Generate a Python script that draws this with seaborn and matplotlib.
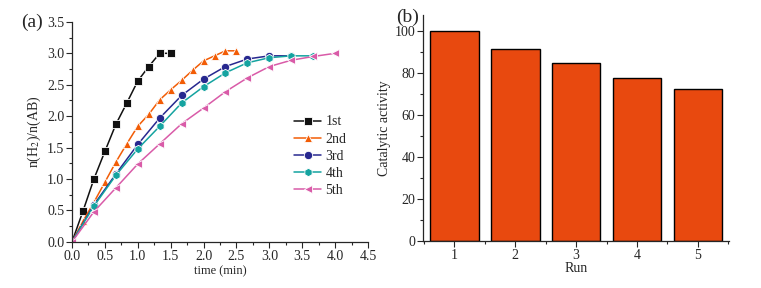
import pandas as pd
import seaborn as sns
import matplotlib.pyplot as plt
from matplotlib.ticker import MultipleLocator

# (a) hydrogen evolution per cycle, time in min
t1 = [0, 0.167, 0.333, 0.5, 0.667, 0.833, 1.0, 1.167, 1.333, 1.5]
y1 = [0, 0.49, 1.00, 1.44, 1.87, 2.21, 2.56, 2.79, 3.00, 3.00]
t2 = [0, 0.167, 0.333, 0.5, 0.667, 0.833, 1.0, 1.167, 1.333, 1.5, 1.667, 1.833, 2.0, 2.167, 2.333, 2.5]
y2 = [0, 0.33, 0.63, 0.95, 1.27, 1.56, 1.84, 2.03, 2.26, 2.42, 2.57, 2.73, 2.88, 2.96, 3.04, 3.04]
t3 = [0, 0.333, 0.667, 1.0, 1.333, 1.667, 2.0, 2.333, 2.667, 3.0, 3.333]
y3 = [0, 0.59, 1.08, 1.55, 1.97, 2.33, 2.59, 2.79, 2.91, 2.96, 2.96]
t4 = [0, 0.333, 0.667, 1.0, 1.333, 1.667, 2.0, 2.333, 2.667, 3.0, 3.333, 3.667]
y4 = [0, 0.57, 1.06, 1.48, 1.84, 2.21, 2.47, 2.69, 2.85, 2.93, 2.96, 2.96]
t5 = [0, 0.333, 0.667, 1.0, 1.333, 1.667, 2.0, 2.333, 2.667, 3.0, 3.333, 3.667, 4.0]
y5 = [0, 0.48, 0.86, 1.24, 1.56, 1.88, 2.13, 2.39, 2.61, 2.79, 2.89, 2.95, 3.00]
runs = ['1st', '2nd', '3rd', '4th', '5th']

# (b) catalytic activity per run
run_ids = ['1', '2', '3', '4', '5']
activity = [100, 91.4, 84.7, 77.6, 72.3]

colors = ['#111111', '#F25C05', '#27288F', '#14A3A0', '#D95BA8']
markers = ['s', '^', 'o', 'h', '<']

frames = []
for name, t, y in zip(runs, [t1, t2, t3, t4, t5], [y1, y2, y3, y4, y5]):
    frames.append(pd.DataFrame({'time': t, 'ratio': y, 'run': name}))
df = pd.concat(frames, ignore_index=True)
bars = pd.DataFrame({'Run': run_ids, 'activity': activity})

sns.set_style('ticks')
plt.rcParams['font.family'] = ['Liberation Serif', 'DejaVu Serif']
plt.rcParams['mathtext.fontset'] = 'stix'
plt.rcParams['xtick.direction'] = 'out'
plt.rcParams['ytick.direction'] = 'out'

fig = plt.figure(figsize=(7.61, 2.88), dpi=100)
ax1 = fig.add_axes([0.0946, 0.160, 0.389, 0.764])
ax2 = fig.add_axes([0.556, 0.163, 0.402, 0.785])

sns.lineplot(data=df, x='time', y='ratio', hue='run', style='run',
             palette=dict(zip(runs, colors)), markers=dict(zip(runs, markers)),
             dashes=False, sort=False, markersize=6, markeredgewidth=0.6,
             linewidth=1.1, ax=ax1)
ax1.set_xlim(0, 4.5)
ax1.set_ylim(0, 3.5)
ax1.xaxis.set_major_locator(MultipleLocator(0.5))
ax1.xaxis.set_minor_locator(MultipleLocator(0.25))
ax1.yaxis.set_major_locator(MultipleLocator(0.5))
ax1.yaxis.set_minor_locator(MultipleLocator(0.25))
ax1.set_xlabel('time (min)', fontsize=9, labelpad=2)
ax1.set_ylabel('n(H$_2$)/n(AB)', fontsize=10, labelpad=3)
leg = ax1.legend(loc='upper left', bbox_to_anchor=(0.73, 0.6), frameon=False,
                 fontsize=10, handlelength=2.0, handletextpad=0.3,
                 labelspacing=0.3, borderaxespad=0)
ax1.text(-0.135, 1.0, '(a)', transform=ax1.transAxes, fontsize=14,
         ha='center', va='center')

sns.barplot(data=bars, x='Run', y='activity', color='#E8490F', width=0.8,
            edgecolor='black', linewidth=1.0, saturation=1, ax=ax2)
ax2.set_xlim(-0.51, 4.51)
ax2.set_ylim(0, 107.8)
ax2.yaxis.set_major_locator(MultipleLocator(20))
ax2.yaxis.set_minor_locator(MultipleLocator(10))
ax2.xaxis.set_minor_locator(MultipleLocator(0.5))
ax2.set_xlabel('Run', fontsize=10, labelpad=0)
ax2.set_ylabel('Catalytic activity', fontsize=10, labelpad=3)
ax2.text(-0.05, 0.99, '(b)', transform=ax2.transAxes, fontsize=14,
         ha='center', va='center')

for ax in (ax1, ax2):
    sns.despine(ax=ax)
    ax.tick_params(which='major', length=4, width=0.8, labelsize=10, pad=1.5)
    ax.tick_params(which='minor', length=2.5, width=0.8)
    for s in ax.spines.values():
        s.set_linewidth(0.9)

fig.savefig('out.png', dpi=100)
